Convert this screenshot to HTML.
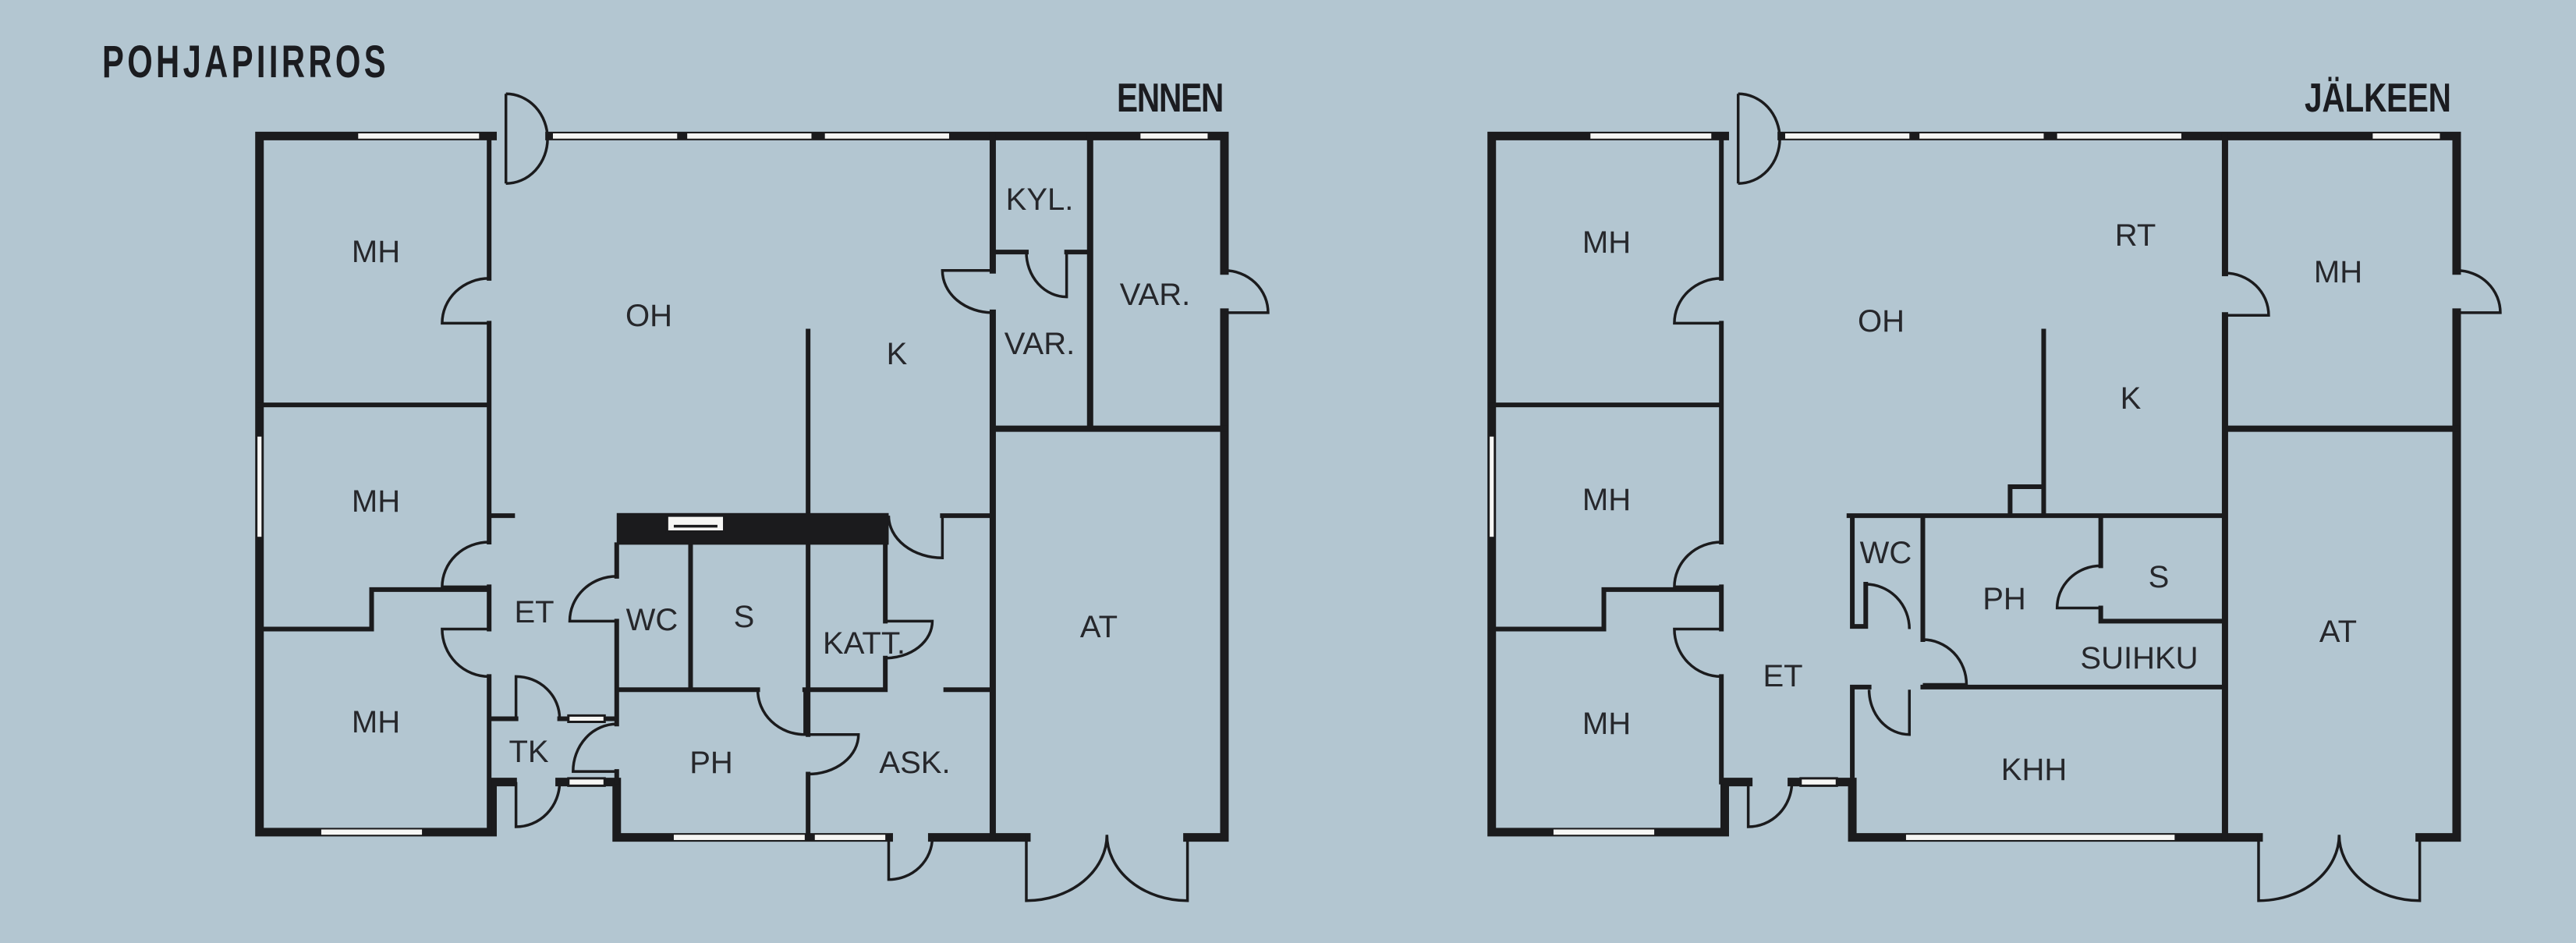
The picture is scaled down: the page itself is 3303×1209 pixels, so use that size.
<!DOCTYPE html>
<html><head><meta charset="utf-8"><style>
html,body{margin:0;padding:0;background:#b3c6d1;}
svg{display:block}
.o{stroke:#1b1b1d;stroke-width:11;fill:none;stroke-linecap:square;stroke-linejoin:miter}
.i{stroke:#1b1b1d;stroke-width:6;fill:none;stroke-linecap:square}
.m{stroke:#1b1b1d;stroke-width:8;fill:none;stroke-linecap:square}
.d{stroke:#1b1b1d;stroke-width:3.5;fill:none}
.w{fill:#f6f6f4;stroke:none}
text{font-family:"Liberation Sans",sans-serif;fill:#26272b}
.l{font-size:40px;text-anchor:middle}
.h{font-weight:bold;fill:#1b1c20}
</style></head><body>
<svg width="3303" height="1209" viewBox="0 0 3303 1209" xmlns="http://www.w3.org/2000/svg">
<rect width="3303" height="1209" fill="#b3c6d1"/>
<text class="h" transform="translate(131,99) scale(0.72,1)" x="0" y="0" font-size="58" textLength="505" lengthAdjust="spacing">POHJAPIIRROS</text>
<text class="h" transform="translate(1432,143) scale(0.78,1)" x="0" y="0" font-size="52" textLength="176" lengthAdjust="spacing">ENNEN</text>
<text class="h" transform="translate(2955,143) scale(0.78,1)" x="0" y="0" font-size="52" textLength="241" lengthAdjust="spacing">JÄLKEEN</text>

<!-- LEFT PLAN -->
<g transform="matrix(0.8610,0,0,0.6761,300,100)">
<path class="o" vector-effect="non-scaling-stroke" d="M385,110 H38 V1430 H385 V1335 H415 M485,1335 H570 V1440 H975 M1040,1440 H1180 M1420,1440 H1475 V445 M1475,365 V110 H470"/>
<path class="i" vector-effect="non-scaling-stroke" d="M380,110 V380 M380,465 V880 M380,965 V1045 M380,1135 V1430 M38,620 H380 M380,970 H205 V1045 H38 M380,830 H415 M380,1215 H420 M485,1215 H570 M570,885 V945 M570,1030 V1225 M570,1315 V1335 M680,885 V1160 M570,1160 H780 M850,1160 H970 M855,480 V825 M855,885 V1245 M855,1320 V1440 M970,885 V1030 M970,1100 V1160 M1055,830 H1130 M1060,1160 H1130 M1130,330 H1180 M1240,330 H1275"/>
<path class="m" vector-effect="non-scaling-stroke" d="M1130,110 V365 M1130,445 V1440 M1275,110 V665 M1130,665 H1475"/>
<rect x="570" y="825" width="405" height="60" fill="#1b1b1d"/>
<rect x="645" y="830" width="85" height="30" fill="#f6f6f4" stroke="#1b1b1d" stroke-width="3" vector-effect="non-scaling-stroke"/>
<path class="d" vector-effect="non-scaling-stroke" d="M655,850 H720"/>
<rect class="w" x="185" y="105" width="180" height="10"/>
<rect class="w" x="475" y="105" width="185" height="10"/>
<rect class="w" x="675" y="105" width="185" height="10"/>
<rect class="w" x="880" y="105" width="185" height="10"/>
<rect class="w" x="1350" y="105" width="100" height="10"/>
<rect class="w" x="35" y="680" width="6" height="190"/>
<rect class="w" x="130" y="1425" width="150" height="10"/>
<rect class="w" x="655" y="1435" width="195" height="10"/>
<rect class="w" x="865" y="1435" width="105" height="10"/>
<rect x="498" y="1328" width="54" height="14" fill="#f6f6f4" stroke="#1b1b1d" stroke-width="3" vector-effect="non-scaling-stroke"/>
<rect x="498" y="1209" width="54" height="12" fill="#f6f6f4" stroke="#1b1b1d" stroke-width="3" vector-effect="non-scaling-stroke"/>
<path class="d" vector-effect="non-scaling-stroke" d="M405,30 V200 M405,30 A62 85 0 0 1 405,200"/>
<path class="d" vector-effect="non-scaling-stroke" d="M380,465 H310 A70 85 0 0 1 380,380"/>
<path class="d" vector-effect="non-scaling-stroke" d="M380,965 H310 A70 85 0 0 1 380,880"/>
<path class="d" vector-effect="non-scaling-stroke" d="M380,1045 H310 A70 90 0 0 0 380,1135"/>
<path class="d" vector-effect="non-scaling-stroke" d="M420,1215 V1135 A65 80 0 0 1 485,1215"/>
<path class="d" vector-effect="non-scaling-stroke" d="M420,1335 V1420 A65 85 0 0 0 485,1335"/>
<path class="d" vector-effect="non-scaling-stroke" d="M570,1315 H505 A65 90 0 0 1 570,1225"/>
<path class="d" vector-effect="non-scaling-stroke" d="M570,1030 H500 A70 85 0 0 1 570,945"/>
<path class="d" vector-effect="non-scaling-stroke" d="M850,1160 V1245 A70 85 0 0 1 780,1160"/>
<path class="d" vector-effect="non-scaling-stroke" d="M855,1245 H930 A75 75 0 0 1 855,1320"/>
<path class="d" vector-effect="non-scaling-stroke" d="M970,1030 H1040 A70 70 0 0 1 970,1100"/>
<path class="d" vector-effect="non-scaling-stroke" d="M1055,830 V910 A80 80 0 0 1 975,830"/>
<path class="d" vector-effect="non-scaling-stroke" d="M1240,330 V415 A60 85 0 0 1 1180,330"/>
<path class="d" vector-effect="non-scaling-stroke" d="M1130,365 H1055 A75 80 0 0 0 1130,445"/>
<path class="d" vector-effect="non-scaling-stroke" d="M1475,445 H1540 A65 80 0 0 0 1475,365"/>
<path class="d" vector-effect="non-scaling-stroke" d="M975,1440 V1520 A65 80 0 0 0 1040,1440"/>
<path class="d" vector-effect="non-scaling-stroke" d="M1180,1435 V1560 A120 125 0 0 0 1300,1435 M1420,1435 V1560 A120 125 0 0 1 1300,1435"/>
</g>

<!-- RIGHT PLAN -->
<g transform="matrix(0.8610,0,0,0.6761,1880,100)">
<path class="o" vector-effect="non-scaling-stroke" d="M385,110 H38 V1430 H385 V1335 H420 M485,1335 H575 V1440 H1180 M1420,1440 H1475 V445 M1475,365 V110 H470"/>
<path class="i" vector-effect="non-scaling-stroke" d="M380,110 V380 M380,465 V880 M380,965 V1045 M380,1135 V1335 M38,620 H380 M380,970 H205 V1045 H38 M860,480 V830 M810,830 V775 H860 M570,830 H1130 M575,830 V1040 H595 V960 M680,830 V1065 M680,1155 H1130 M575,1155 H600 M575,1155 V1440 M945,830 V925 M945,1005 V1030 H1130"/>
<path class="m" vector-effect="non-scaling-stroke" d="M1130,110 V370 M1130,450 V1440 M1130,665 H1475"/>
<rect class="w" x="185" y="105" width="180" height="10"/>
<rect class="w" x="475" y="105" width="185" height="10"/>
<rect class="w" x="675" y="105" width="185" height="10"/>
<rect class="w" x="880" y="105" width="185" height="10"/>
<rect class="w" x="1350" y="105" width="100" height="10"/>
<rect class="w" x="35" y="680" width="6" height="190"/>
<rect class="w" x="130" y="1425" width="150" height="10"/>
<rect class="w" x="655" y="1435" width="400" height="10"/>
<rect x="498" y="1328" width="54" height="14" fill="#f6f6f4" stroke="#1b1b1d" stroke-width="3" vector-effect="non-scaling-stroke"/>
<path class="d" vector-effect="non-scaling-stroke" d="M405,30 V200 M405,30 A62 85 0 0 1 405,200"/>
<path class="d" vector-effect="non-scaling-stroke" d="M380,465 H310 A70 85 0 0 1 380,380"/>
<path class="d" vector-effect="non-scaling-stroke" d="M380,965 H310 A70 85 0 0 1 380,880"/>
<path class="d" vector-effect="non-scaling-stroke" d="M380,1045 H310 A70 90 0 0 0 380,1135"/>
<path class="d" vector-effect="non-scaling-stroke" d="M420,1335 V1420 A65 85 0 0 0 485,1335"/>
<path class="d" vector-effect="non-scaling-stroke" d="M1130,450 H1195 A65 80 0 0 0 1130,370"/>
<path class="d" vector-effect="non-scaling-stroke" d="M595,960 A65 85 0 0 1 660,1045"/>
<path class="d" vector-effect="non-scaling-stroke" d="M680,1150 H745 A65 85 0 0 0 680,1065"/>
<path class="d" vector-effect="non-scaling-stroke" d="M660,1160 V1245 A60 85 0 0 1 600,1160"/>
<path class="d" vector-effect="non-scaling-stroke" d="M945,1005 H880 A65 80 0 0 1 945,925"/>
<path class="d" vector-effect="non-scaling-stroke" d="M1475,445 H1540 A65 80 0 0 0 1475,365"/>
<path class="d" vector-effect="non-scaling-stroke" d="M1180,1435 V1560 A120 125 0 0 0 1300,1435 M1420,1435 V1560 A120 125 0 0 1 1300,1435"/>
</g>

<text class="l" x="482" y="336">MH</text>
<text class="l" x="832" y="418">OH</text>
<text class="l" x="1150" y="467">K</text>
<text class="l" x="1333" y="269">KYL.</text>
<text class="l" x="1333" y="454">VAR.</text>
<text class="l" x="1481" y="391">VAR.</text>
<text class="l" x="482" y="656">MH</text>
<text class="l" x="685" y="798">ET</text>
<text class="l" x="836" y="808">WC</text>
<text class="l" x="954" y="804">S</text>
<text class="l" x="1108" y="838">KATT.</text>
<text class="l" x="1409" y="817">AT</text>
<text class="l" x="482" y="939">MH</text>
<text class="l" x="678" y="977">TK</text>
<text class="l" x="912" y="991">PH</text>
<text class="l" x="1173" y="991">ASK.</text>
<text class="l" x="2060" y="324">MH</text>
<text class="l" x="2412" y="425">OH</text>
<text class="l" x="2738" y="315">RT</text>
<text class="l" x="2998" y="362">MH</text>
<text class="l" x="2732" y="524">K</text>
<text class="l" x="2060" y="654">MH</text>
<text class="l" x="2418" y="722">WC</text>
<text class="l" x="2570" y="781">PH</text>
<text class="l" x="2768" y="753">S</text>
<text class="l" x="2743" y="857">SUIHKU</text>
<text class="l" x="2286" y="880">ET</text>
<text class="l" x="2998" y="823">AT</text>
<text class="l" x="2060" y="941">MH</text>
<text class="l" x="2608" y="1000">KHH</text>
</svg>
</body></html>
